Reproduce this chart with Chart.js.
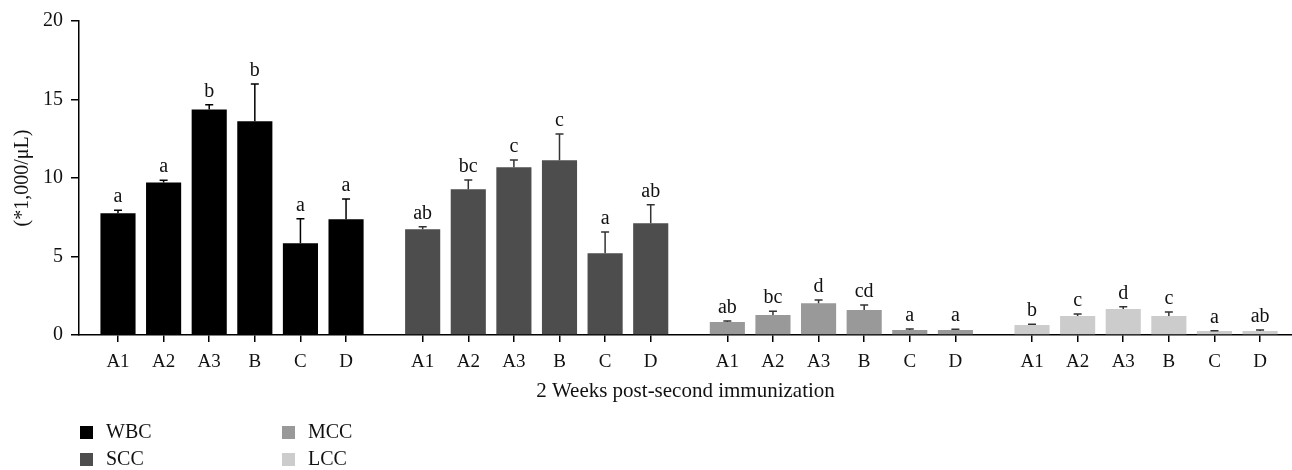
<!DOCTYPE html>
<html>
<head>
<meta charset="utf-8">
<title>Contagem de células</title>
<script src="https://cdn.jsdelivr.net/npm/chart.js@4.4.1/dist/chart.umd.min.js"></script>
<style>
    html, body { margin: 0; padding: 0; background: #fff; }
    #wrap { width: 1292px; height: 470px; }
</style>
</head>
<body>
<div id="wrap"><canvas id="celulasChart" width="1292" height="470"></canvas></div>
<script>
const grupos = ['A1', 'A2', 'A3', 'B', 'C', 'D'];

const wbc = [7.75, 9.72, 14.37, 13.61, 5.84, 7.37];
const wbcErro = [0.19, 0.13, 0.30, 2.38, 1.57, 1.29];
const wbcLetras = ['a', 'a', 'b', 'b', 'a', 'a'];

const scc = [6.73, 9.28, 10.68, 11.13, 5.20, 7.11];
const sccErro = [0.17, 0.59, 0.47, 1.67, 1.36, 1.19];
const sccLetras = ['ab', 'bc', 'c', 'c', 'a', 'ab'];

const mcc = [0.83, 1.27, 2.02, 1.59, 0.32, 0.32];
const mccErro = [0.06, 0.24, 0.21, 0.32, 0.06, 0.04];
const mccLetras = ['ab', 'bc', 'd', 'cd', 'a', 'a'];

const lcc = [0.64, 1.21, 1.66, 1.21, 0.25, 0.25];
const lccErro = [0.04, 0.13, 0.14, 0.25, 0.02, 0.07];
const lccLetras = ['b', 'c', 'd', 'c', 'a', 'ab'];

const yTicks = [0, 5, 10, 15, 20];

// distancia entre os blocos de 6 barras (em unidades de barra)
const passoBloco = 6.68;
const fonte = '"Liberation Serif", "Times New Roman", serif';

function posicao(bloco, i) {
    return bloco * passoBloco + i;
}

function montarSerie(nome, valores, erros, letras, cor, bloco) {
    return {
        label: nome,
        data: valores.map((v, i) => ({ x: posicao(bloco, i), y: v })),
        erros: erros,
        letras: letras,
        medias: valores,
        backgroundColor: cor,
        borderWidth: 0,
        grouped: false,
        barPercentage: 0.77,
        categoryPercentage: 1.0
    };
}

const posicoesTicks = [];
for (let b = 0; b < 4; b++) {
    grupos.forEach((g, i) => posicoesTicks.push(posicao(b, i)));
}

const barrasErro = {
    id: 'barrasErro',
    afterDatasetsDraw(chart) {
        const ctx = chart.ctx;
        const y = chart.scales.y;
        chart.data.datasets.forEach((ds, i) => {
            const meta = chart.getDatasetMeta(i);
            meta.data.forEach((bar, j) => {
                const topo = y.getPixelForValue(ds.medias[j] + ds.erros[j]);
                ctx.save();
                ctx.strokeStyle = i === 0 ? '#000' : '#333';
                ctx.lineWidth = 1.5;
                ctx.beginPath();
                ctx.moveTo(bar.x, bar.y);
                ctx.lineTo(bar.x, topo);
                ctx.moveTo(bar.x - 4, topo);
                ctx.lineTo(bar.x + 4, topo);
                ctx.stroke();
                ctx.fillStyle = '#111';
                ctx.font = '20px ' + fonte;
                ctx.textAlign = 'center';
                ctx.textBaseline = 'alphabetic';
                ctx.fillText(ds.letras[j], bar.x, topo - 8);
                ctx.restore();
            });
        });
    }
};

// legenda em duas colunas, embaixo a esquerda
const legendaColunas = {
    id: 'legendaColunas',
    afterDraw(chart) {
        const ctx = chart.ctx;
        const x0 = chart.chartArea.left + 1;
        chart.data.datasets.forEach((ds, i) => {
            const col = Math.floor(i / 2);
            const lin = i % 2;
            const x = x0 + col * 202;
            const y = 432 + lin * 27;
            ctx.save();
            ctx.fillStyle = ds.backgroundColor;
            ctx.fillRect(x, y - 6, 13, 13);
            ctx.fillStyle = '#111';
            ctx.font = '20px ' + fonte;
            ctx.textAlign = 'left';
            ctx.textBaseline = 'middle';
            ctx.fillText(ds.label, x + 26, y + 1);
            ctx.restore();
        });
    }
};

function inicializarGrafico() {
    const ctx = document.getElementById('celulasChart').getContext('2d');
    return new Chart(ctx, {
        type: 'bar',
        data: {
            datasets: [
                montarSerie('WBC', wbc, wbcErro, wbcLetras, '#000000', 0),
                montarSerie('SCC', scc, sccErro, sccLetras, '#4d4d4d', 1),
                montarSerie('MCC', mcc, mccErro, mccLetras, '#999999', 2),
                montarSerie('LCC', lcc, lccErro, lccLetras, '#cccccc', 3)
            ]
        },
        options: {
            responsive: false,
            devicePixelRatio: 1,
            animation: false,
            layout: { padding: { top: 21, right: 0, bottom: 66, left: 0 } },
            plugins: {
                legend: { display: false },
                tooltip: { enabled: false }
            },
            scales: {
                x: {
                    type: 'linear',
                    offset: false,
                    min: -0.855,
                    max: 25.74,
                    afterBuildTicks: (s) => {
                        s.ticks = posicoesTicks.map(v => ({ value: v }));
                    },
                    afterFit: (s) => { s.height = 69; },
                    grid: { offset: false, drawOnChartArea: false, drawTicks: true, tickLength: 7, color: '#000', lineWidth: 1.5 },
                    border: { display: true, color: '#000', width: 1.5 },
                    ticks: {
                        autoSkip: false,
                        maxRotation: 0,
                        padding: 9,
                        color: '#111',
                        font: { family: fonte, size: 19 },
                        callback: (v, i) => grupos[i % 6]
                    },
                    title: {
                        display: true,
                        text: '2 Weeks post-second immunization',
                        color: '#111',
                        font: { family: fonte, size: 21 },
                        padding: { top: 0, bottom: 0 }
                    }
                },
                y: {
                    min: 0,
                    max: 20,
                    afterBuildTicks: (s) => {
                        s.ticks = yTicks.map(v => ({ value: v }));
                    },
                    afterFit: (s) => { s.width = 79; },
                    grid: { drawOnChartArea: false, drawTicks: true, tickLength: 8, color: '#000', lineWidth: 1.5 },
                    border: { display: true, color: '#000', width: 1.5 },
                    ticks: {
                        padding: 8,
                        color: '#111',
                        font: { family: fonte, size: 20 }
                    },
                    title: {
                        display: true,
                        text: '(*1,000/μL)',
                        color: '#111',
                        font: { family: fonte, size: 20 },
                        padding: { top: 11, bottom: 0 }
                    }
                }
            }
        },
        plugins: [barrasErro, legendaColunas]
    });
}

document.addEventListener('DOMContentLoaded', () => {
    inicializarGrafico();
});
</script>
</body>
</html>
